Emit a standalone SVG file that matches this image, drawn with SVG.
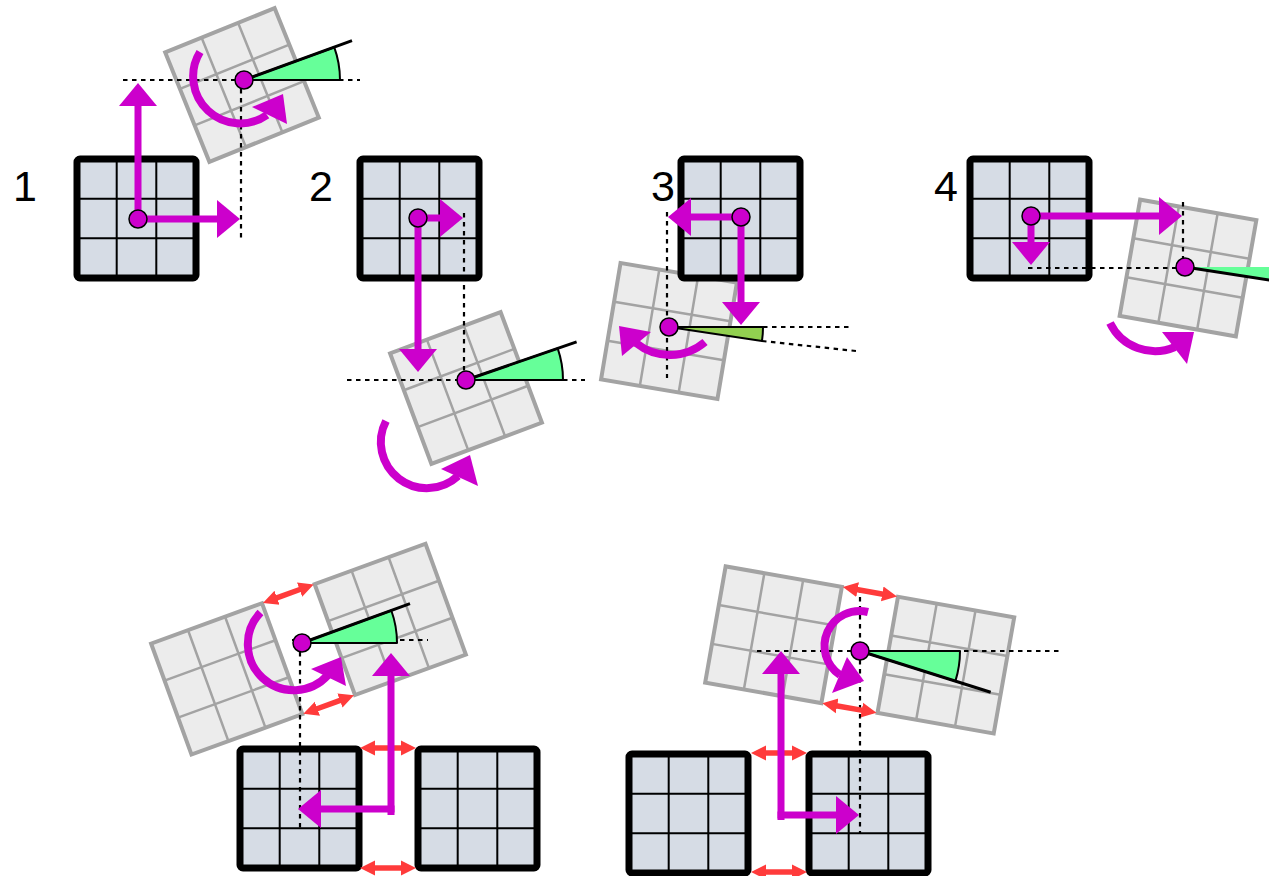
<svg xmlns="http://www.w3.org/2000/svg" xmlns:xlink="http://www.w3.org/1999/xlink" width="1269" height="876" viewBox="0 0 1269 876">
<style>
.dash{stroke:#000;stroke-width:2.2;stroke-dasharray:4.5 4.5;fill:none}
.mag{stroke:#c0c;stroke-width:7;fill:none}
.arc{stroke:#c0c;stroke-width:8;fill:none}
.head{fill:#c0c}
.dot{fill:#c0c;stroke:#000;stroke-width:1.5}
.wedge{fill:#66ff99;stroke:#000;stroke-width:2;stroke-linejoin:round}
.wedge2{fill:#92d050;stroke:#000;stroke-width:2;stroke-linejoin:round}
.ray{stroke:#000;stroke-width:3}
.red{stroke:#ff3b3b;stroke-width:5.5;fill:none}
.lbl{font-family:"Liberation Sans",Arial,sans-serif;font-size:43px;fill:#000;text-anchor:middle}
</style>
<defs>
<g id="tile">
<rect x="-59" y="-59" width="118" height="118" fill="#ececec" stroke="#a3a3a3" stroke-width="4"/>
<path d="M-19.7,-59V59M19.7,-59V59M-59,-19.7H59M-59,19.7H59" stroke="#a3a3a3" stroke-width="2.5"/>
</g>
<g id="sq">
<rect x="0" y="0" width="119" height="119" rx="3" fill="#d6dce5" stroke="#000" stroke-width="7"/>
<path d="M39.7,0V119M79.3,0V119M0,39.7H119M0,79.3H119" stroke="#000" stroke-width="2"/>
</g>
<marker id="ah" markerUnits="userSpaceOnUse" markerWidth="26" markerHeight="40" viewBox="0 -20 26 40" refX="1" refY="0" orient="auto">
<path d="M0,-19L23,0L0,19Z" fill="#c0c"/>
</marker>
<marker id="rh" markerUnits="userSpaceOnUse" markerWidth="18" markerHeight="18" viewBox="0 -9 18 18" refX="1" refY="0" orient="auto-start-reverse">
<path d="M0,-7.5L15,0L0,7.5Z" fill="#ff3b3b"/>
</marker>
</defs>
<rect width="1269" height="876" fill="#fff"/>

<g id="labels">
<text class="lbl" x="25" y="201">1</text>
<text class="lbl" x="321" y="201">2</text>
<text class="lbl" x="663" y="201">3</text>
<text class="lbl" x="946" y="201">4</text>
</g>

<g id="tiles">
<use xlink:href="#tile" href="#tile" transform="translate(242,85) rotate(-22)"/>
<use xlink:href="#tile" href="#tile" transform="translate(466,388) rotate(-20.5)"/>
<use xlink:href="#tile" href="#tile" transform="translate(669,331) rotate(9.5)"/>
<use xlink:href="#tile" href="#tile" transform="translate(1188,268) rotate(10)"/>
<g id="bl-tiles" transform="translate(302,643) rotate(-20)">
<use xlink:href="#tile" href="#tile" transform="translate(-83,8)"/>
<use xlink:href="#tile" href="#tile" transform="translate(91,8)"/>
</g>
<g id="br-tiles" transform="translate(860,651) rotate(10)">
<use xlink:href="#tile" href="#tile" transform="translate(-88,-1)"/>
<use xlink:href="#tile" href="#tile" transform="translate(87,-1)"/>
</g>
</g>

<g id="squares">
<use id="sq1" xlink:href="#sq" href="#sq" x="77" y="159"/>
<use id="sq2" xlink:href="#sq" href="#sq" x="360" y="159"/>
<use id="sq3" xlink:href="#sq" href="#sq" x="681" y="159"/>
<use id="sq4" xlink:href="#sq" href="#sq" x="970" y="159"/>
<use id="sq5" xlink:href="#sq" href="#sq" x="240" y="749"/>
<use id="sq6" xlink:href="#sq" href="#sq" x="418" y="749"/>
<use id="sq7" xlink:href="#sq" href="#sq" x="629" y="754"/>
<use id="sq8" xlink:href="#sq" href="#sq" x="809" y="754"/>
</g>

<g id="dashes">
<path class="dash" d="M123,80H360M241,80V242"/>
<path class="dash" d="M464,213V380M347,380H585"/>
<path class="dash" d="M667,212V378M763,327H852M762,341L856,351"/>
<path class="dash" d="M1028,268H1185M1183,202V268"/>
<path class="dash" d="M300,643V830M292,640H428"/>
<path class="dash" d="M860,588V833M757,651H1062"/>
</g>

<g id="red-gaps">
<line class="red" x1="374" y1="748" x2="402" y2="748" marker-start="url(#rh)" marker-end="url(#rh)"/>
<line class="red" x1="374" y1="868" x2="402" y2="868" marker-start="url(#rh)" marker-end="url(#rh)"/>
<line class="red" x1="765" y1="753" x2="793" y2="753" marker-start="url(#rh)" marker-end="url(#rh)"/>
<line class="red" x1="765" y1="872" x2="793" y2="872" marker-start="url(#rh)" marker-end="url(#rh)"/>
<g transform="translate(302,643) rotate(-20)">
<line class="red" x1="-9" y1="-51" x2="17" y2="-51" marker-start="url(#rh)" marker-end="url(#rh)"/>
<line class="red" x1="-9" y1="67" x2="17" y2="67" marker-start="url(#rh)" marker-end="url(#rh)"/>
</g>
<g transform="translate(860,651) rotate(10)">
<line class="red" x1="-14" y1="-60" x2="13" y2="-60" marker-start="url(#rh)" marker-end="url(#rh)"/>
<line class="red" x1="-14" y1="58" x2="13" y2="58" marker-start="url(#rh)" marker-end="url(#rh)"/>
</g>
</g>

<g id="wedges">
<path class="wedge" d="M244,80H340A96,96 0 0,0 334.2,47.2Z"/>
<line class="ray" x1="244" y1="80" x2="352" y2="40.7"/>
<path class="wedge" d="M466,380H563A97,97 0 0,0 557.7,348.4Z"/>
<line class="ray" x1="466" y1="380" x2="576.6" y2="341.9"/>
<path class="wedge2" d="M669,327H763A94,94 0 0,1 762,340.9Z"/>
<path d="M1185,267H1300L1300,284.8Z" fill="#66ff99"/>
<line class="ray" x1="1185" y1="267" x2="1300" y2="284.8"/>
<path class="wedge" d="M302,643H397A95,95 0 0,0 391.3,610.5Z"/>
<line class="ray" x1="302" y1="643" x2="410" y2="603.7"/>
<path class="wedge" d="M860,651H960A100,100 0 0,1 955.4,681.1Z"/>
<line class="ray" x1="860" y1="651" x2="990.7" y2="692.2"/>
</g>

<g id="connectors">
<line class="mag" x1="138" y1="219" x2="138" y2="105" marker-end="url(#ah)"/>
<line class="mag" x1="138" y1="219" x2="218" y2="219" marker-end="url(#ah)"/>
<line class="mag" x1="418" y1="218" x2="441" y2="218" marker-end="url(#ah)"/>
<line class="mag" x1="418" y1="218" x2="418" y2="350" marker-end="url(#ah)"/>
<line class="mag" x1="741" y1="217" x2="690" y2="217" marker-end="url(#ah)"/>
<line class="mag" x1="741" y1="217" x2="741" y2="303" marker-end="url(#ah)"/>
<line class="mag" x1="1031" y1="216" x2="1160" y2="216" marker-end="url(#ah)"/>
<line class="mag" x1="1031" y1="216" x2="1031" y2="243" marker-end="url(#ah)"/>
<line class="mag" x1="391" y1="815" x2="391" y2="675" marker-end="url(#ah)"/>
<line class="mag" x1="394.5" y1="809" x2="320" y2="809" marker-end="url(#ah)"/>
<line class="mag" x1="781" y1="820" x2="781" y2="673" marker-end="url(#ah)"/>
<line class="mag" x1="777.5" y1="815" x2="837" y2="815" marker-end="url(#ah)"/>

<path class="arc" d="M200,52A47,47 0 0,0 267,115"/>
<polygon class="head" points="252,107 283,94 287,124"/>
<path class="arc" d="M386,421A46,46 0 0,0 458,476"/>
<polygon class="head" points="441,469 470,455 478,486"/>
<path class="arc" d="M705,342A54,54 0 0,1 636,343"/>
<polygon class="head" points="619,326 651,332 622,356"/>
<path class="arc" d="M1110,323A50,50 0 0,0 1175,347"/>
<polygon class="head" points="1162,332 1194,332 1187,364"/>
<path class="arc" d="M260.5,612.5A46,46 0 1,0 328,675"/>
<polygon class="head" points="311,669 341,657 346,686"/>
<path class="arc" d="M868,612A35,35 0 0,0 840,675"/>
<polygon class="head" points="847,657 832,693 864,681"/>
</g>

<g id="dots">
<circle class="dot" cx="138" cy="219" r="9"/>
<circle class="dot" cx="244" cy="80" r="9"/>
<circle class="dot" cx="418" cy="218" r="9"/>
<circle class="dot" cx="466" cy="380" r="9"/>
<circle class="dot" cx="741" cy="217" r="9"/>
<circle class="dot" cx="669" cy="327" r="9"/>
<circle class="dot" cx="1031" cy="216" r="9"/>
<circle class="dot" cx="1185" cy="267" r="9"/>
<circle class="dot" cx="302" cy="643" r="9"/>
<circle class="dot" cx="860" cy="651" r="9"/>
</g>
</svg>
